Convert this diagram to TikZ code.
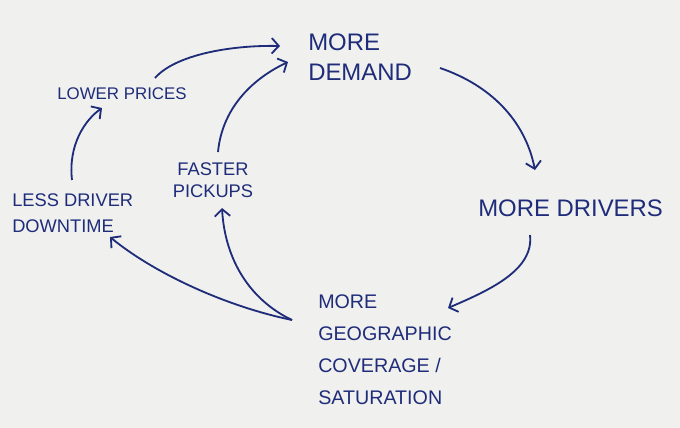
\documentclass[tikz,border=0pt]{standalone}
\usepackage{fontspec}
\setmainfont{Liberation Sans}
\usepackage{tikz}
\usetikzlibrary{calc,arrows.meta}
\definecolor{ink}{HTML}{1F2C7A}
\definecolor{paper}{HTML}{F0F0EE}
\tikzstyle{idea}=[
        text=ink,
        inner sep=0pt,
        anchor=west,
        align=left
]
\tikzstyle{link}=[
        draw=ink,
        line width=1.3pt,
        -{Straight Barb[length=5pt,width=11pt]}
]

\begin{document}
\begin{tikzpicture}[x=0.025cm,y=-0.025cm]
                        \fill[paper] (0,0) rectangle (680,428);

                        \node[idea, font=\fontsize{17}{21.3}\selectfont] (demand) at (308,57) {MORE\\DEMAND};
                        \node[idea, font=\fontsize{17}{21}\selectfont] (drivers) at (478,208) {MORE DRIVERS};
                        \node[idea, font=\fontsize{14}{22.7}\selectfont] (coverage) at (318,350) {MORE\\GEOGRAPHIC\\COVERAGE /\\SATURATION};
                        \node[idea, anchor=center, align=center, font=\fontsize{13}{15.6}\selectfont] (faster) at (213,180) {FASTER\\PICKUPS};
                        \node[idea, font=\fontsize{13}{18.4}\selectfont] (downtime) at (12,213) {LESS DRIVER\\DOWNTIME};
                        \node[idea, font=\fontsize{12}{14}\selectfont] (prices) at (57,94) {LOWER PRICES};

                        % main loop
                        \draw[link] ($(demand.west)+(132,11)$) .. controls ($(demand.west)+(182,28)$) and ($(drivers.west)+(47,-88)$) .. ($(drivers.west)+(57,-38)$);
                        \draw[link] ($(drivers.west)+(52,27)$) .. controls ($(drivers.west)+(56,62)$) and ($(coverage.west)+(172,-60)$) .. ($(coverage.west)+(130,-42)$);

                        % back to demand
                        \draw[link] ($(coverage.west)+(-26,-30)$) .. controls ($(coverage.west)+(-68,-50)$) and ($(faster.center)+(12,80)$) .. ($(faster.center)+(9,28)$);
                        \draw[link] ($(coverage.west)+(-26,-30)$) .. controls ($(coverage.west)+(-98,-45)$) and ($(downtime.west)+(138,57)$) .. ($(downtime.west)+(98,24)$);
                        \draw[link] ($(faster.center)+(5,-28)$) .. controls ($(faster.center)+(9,-70)$) and ($(demand.west)+(-58,23)$) .. ($(demand.west)+(-20,5)$);
                        \draw[link] ($(downtime.west)+(60,-33)$) .. controls ($(downtime.west)+(56,-68)$) and ($(prices.west)+(28,26)$) .. ($(prices.west)+(45,14)$);
                        \draw[link] ($(prices.west)+(98,-16)$) .. controls ($(prices.west)+(118,-39)$) and ($(demand.west)+(-78,-12)$) .. ($(demand.west)+(-28,-11)$);
\end{tikzpicture}
\end{document}
